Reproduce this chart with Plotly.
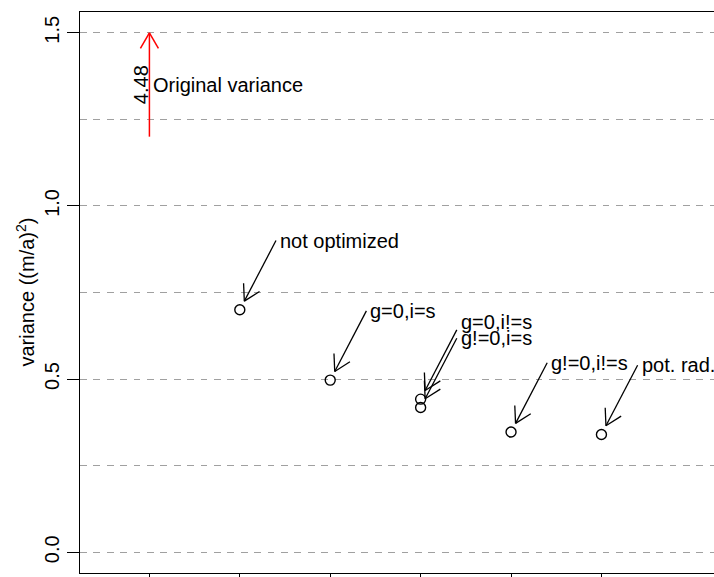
import math
import plotly.graph_objects as go

# ---------------- data ----------------
labels = ["not optimized", "g=0,i=s", "g=0,i!=s", "g!=0,i=s", "g!=0,i!=s", "pot. rad."]
x_pos = [2, 3, 4, 4, 5, 6]
variance = [0.700, 0.497, 0.442, 0.418, 0.347, 0.340]

orig_x = 1
orig_label = "4.48"
orig_text = "Original variance"
orig_arrow_from = 1.2
orig_arrow_to = 1.5

y_ticks = [0.0, 0.5, 1.0, 1.5]
x_ticks = [1, 2, 3, 4, 5, 6]

# ---------------- layout constants ----------------
W, H = 714, 577
ML, MR, MT, MB = 80, 0, 12, 4
XR = [0.2323, 7.245]
YR = [-0.06, 1.56]
FONT = "Liberation Sans, Arial, Helvetica, sans-serif"
FS = 20

pw = W - ML - MR
ph = H - MT - MB
sx = pw / (XR[1] - XR[0])
sy = ph / (YR[1] - YR[0])

# arrow geometry (relative to the point, in data units)
DX0, DY0, DX1, DY1 = 0.4, 0.2, 0.05, 0.025
label_nudge = {"g=0,i!=s": 0.022}


def head(xt, yt, xs, ys, L=18, ang=30):
    """open V arrow head at tip (xt,yt), shaft coming from (xs,ys)."""
    dx = (xs - xt) * sx
    dy = (ys - yt) * sy
    n = math.hypot(dx, dy)
    ux, uy = dx / n, dy / n
    out_x, out_y = [], []
    for a in (ang, -ang):
        r = math.radians(a)
        rx = ux * math.cos(r) - uy * math.sin(r)
        ry = ux * math.sin(r) + uy * math.cos(r)
        out_x += [xt + L * rx / sx, xt, None]
        out_y += [yt + L * ry / sy, yt, None]
    return out_x, out_y


fig = go.Figure()

# black arrows
ax_, ay_ = [], []
for x, y in zip(x_pos, variance):
    xs, ys = x + DX0, y + DY0
    xt, yt = x + DX1, y + DY1
    ax_ += [xs, xt, None]
    ay_ += [ys, yt, None]
    hx, hy = head(xt, yt, xs, ys)
    ax_ += hx
    ay_ += hy
fig.add_trace(go.Scatter(x=ax_, y=ay_, mode="lines",
                         line=dict(color="black", width=1.3),
                         hoverinfo="skip", showlegend=False))

# red arrow for original variance
rx_ = [orig_x, orig_x, None]
ry_ = [orig_arrow_from, orig_arrow_to, None]
hx, hy = head(orig_x, orig_arrow_to, orig_x, orig_arrow_from)
rx_ += hx
ry_ += hy
fig.add_trace(go.Scatter(x=rx_, y=ry_, mode="lines",
                         line=dict(color="#ff0000", width=1.5),
                         hoverinfo="skip", showlegend=False))

# points
fig.add_trace(go.Scatter(x=x_pos, y=variance, mode="markers",
                         marker=dict(symbol="circle-open", size=10,
                                     color="black", line=dict(width=1.4)),
                         showlegend=False))

annotations = []
for lab, x, y in zip(labels, x_pos, variance):
    annotations.append(dict(
        x=x + DX0, y=y + DY0 + label_nudge.get(lab, 0), xref="x", yref="y",
        text=lab, showarrow=False, xanchor="left", yanchor="middle",
        xshift=2, font=dict(family=FONT, size=FS, color="black")))

annotations.append(dict(
    x=orig_x, y=1.35, xref="x", yref="y", text=orig_label, showarrow=False,
    textangle=-90, xanchor="center", yanchor="middle", xshift=-9,
    font=dict(family=FONT, size=FS, color="black")))
annotations.append(dict(
    x=orig_x, y=1.35, xref="x", yref="y", text=orig_text, showarrow=False,
    xanchor="left", yanchor="middle", xshift=2,
    font=dict(family=FONT, size=FS, color="black")))
annotations.append(dict(
    x=0, y=0.5, xref="paper", yref="paper", text="variance ((m/a)<sup>2</sup>)",
    showarrow=False, textangle=-90, xanchor="center", yanchor="middle",
    xshift=-55, font=dict(family=FONT, size=FS, color="black")))

grid = dict(gridcolor="#a0a0a0", griddash="6.7px,6.7px", gridwidth=1)

fig.update_layout(
    width=W, height=H,
    margin=dict(l=ML, r=MR, t=MT, b=MB, pad=0, autoexpand=False),
    paper_bgcolor="white", plot_bgcolor="white",
    font=dict(family=FONT, size=FS, color="black"),
    annotations=annotations,
    xaxis=dict(range=XR, tickvals=x_ticks, showticklabels=False,
               ticks="outside", ticklen=12, tickwidth=1.3, tickcolor="black",
               showline=True, mirror=True, linecolor="black", linewidth=1.3,
               showgrid=False, zeroline=False, automargin=False),
    yaxis=dict(range=YR, tickvals=y_ticks, tickformat=".1f",
               ticks="outside", ticklen=12, tickwidth=1.3, tickcolor="black",
               tickangle=-90, tickfont=dict(family=FONT, size=FS),
               showline=True, mirror=False, linecolor="black", linewidth=1.3,
               showgrid=True, zeroline=False, automargin=False, **grid,
               minor=dict(dtick=0.25, tick0=0, showgrid=True, ticks="", **grid)),
)

fig.write_html("out.html")
